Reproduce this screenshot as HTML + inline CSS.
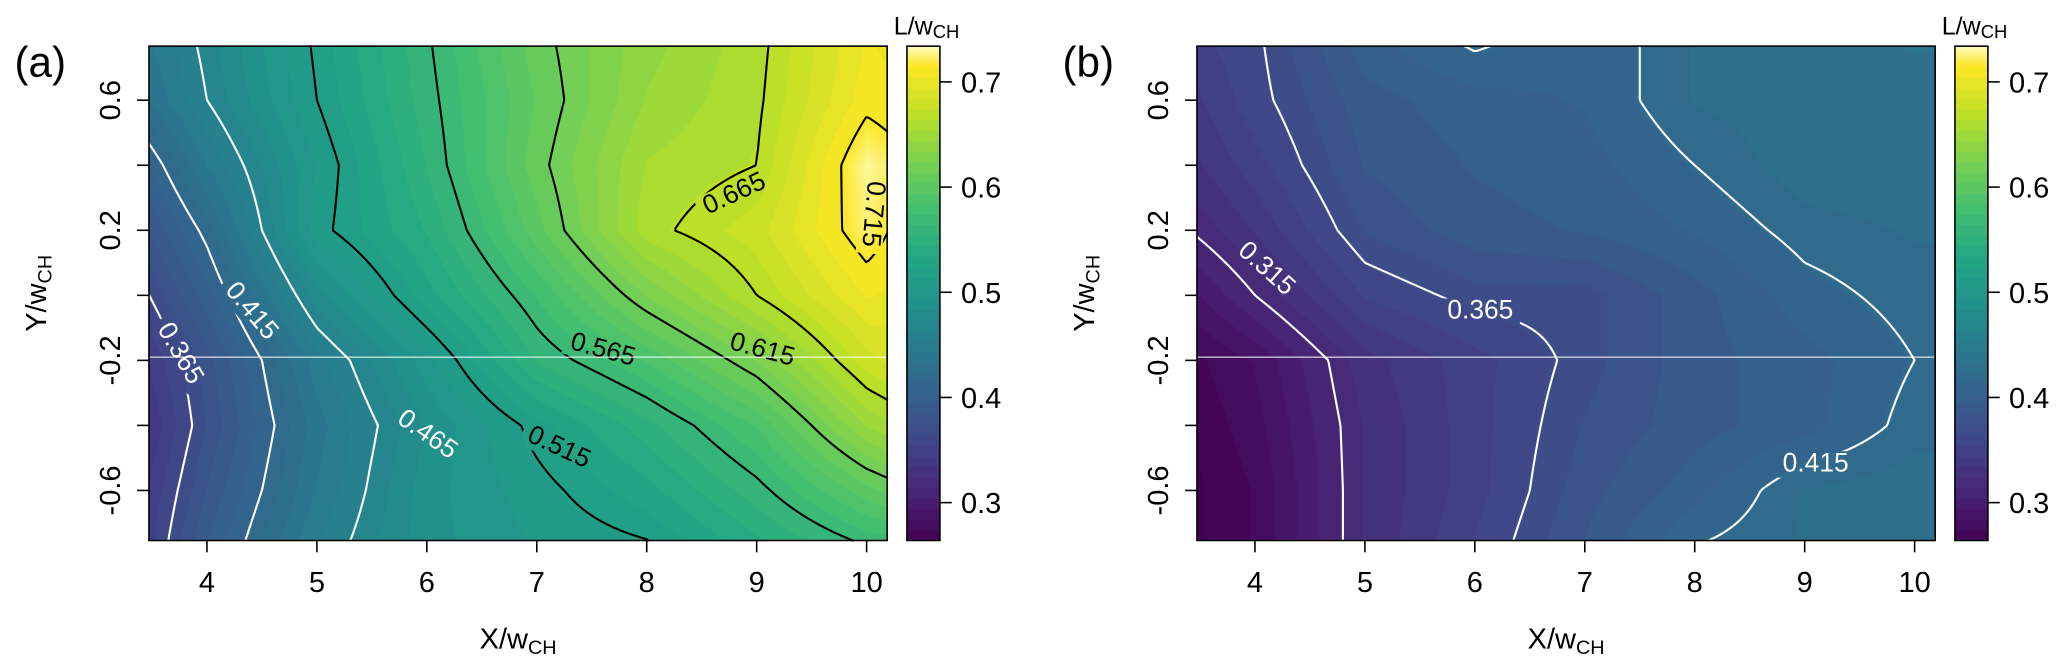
<!DOCTYPE html>
<html><head><meta charset="utf-8">
<style>
html,body{margin:0;padding:0;background:#fff;}
#wrap{position:relative;width:2067px;height:671px;overflow:hidden;}
canvas,svg{position:absolute;left:0;top:0;}
text{font-family:"Liberation Sans",sans-serif;}
</style></head>
<body>
<div id="wrap">
<canvas id="cv" width="2067" height="671"></canvas>
<svg id="sv" width="2067" height="671" viewBox="0 0 1568 509"></svg>
</div>
<script>
// ---- data ----
const xGrid = [3.4, 4, 5, 6, 7, 8, 9, 10, 10.3];
const yGrid = [-0.77, -0.6, -0.4, -0.2, 0, 0.2, 0.4, 0.6, 0.78];
// rows bottom->top, panel (a)
const valuesA = [
  [0.345,0.395,0.455,0.49,0.505,0.513,0.54,0.565,0.567],
  [0.34,0.385,0.445,0.49,0.51,0.53,0.56,0.60,0.61],
  [0.33,0.375,0.44,0.485,0.52,0.55,0.585,0.645,0.655],
  [0.34,0.38,0.45,0.50,0.555,0.585,0.625,0.68,0.69],
  [0.36,0.40,0.48,0.53,0.575,0.625,0.665,0.705,0.70],
  [0.38,0.42,0.51,0.545,0.60,0.66,0.68,0.725,0.71],
  [0.40,0.445,0.505,0.555,0.61,0.655,0.665,0.73,0.72],
  [0.43,0.465,0.515,0.56,0.605,0.645,0.662,0.71,0.705],
  [0.44,0.47,0.518,0.563,0.61,0.64,0.66,0.705,0.70]
];
const valuesB = [
  [0.26,0.275,0.325,0.355,0.385,0.415,0.425,0.43,0.43],
  [0.26,0.275,0.325,0.35,0.38,0.40,0.425,0.43,0.43],
  [0.265,0.28,0.325,0.35,0.375,0.39,0.40,0.42,0.42],
  [0.27,0.285,0.33,0.35,0.37,0.39,0.40,0.415,0.42],
  [0.29,0.315,0.355,0.37,0.37,0.39,0.41,0.42,0.42],
  [0.315,0.335,0.375,0.39,0.395,0.405,0.42,0.425,0.425],
  [0.33,0.35,0.385,0.395,0.40,0.415,0.43,0.43,0.43],
  [0.34,0.36,0.39,0.40,0.405,0.425,0.43,0.43,0.43],
  [0.35,0.362,0.40,0.418,0.405,0.425,0.43,0.435,0.435]
];
const levelsA = [0.365,0.415,0.465,0.515,0.565,0.615,0.665,0.715];
const levelColorsA = ['#fff','#fff','#fff','#000','#000','#000','#000','#000'];
const levelsB = [0.315,0.365,0.415];
const xTicks = [4,5,6,7,8,9,10];
const yTicks = [-0.6,-0.4,-0.2,0,0.2,0.4,0.6];
const yTickLabels = ['-0.6','','-0.2','','0.2','','0.6'];
const cbTicks = [0.3,0.4,0.5,0.6,0.7];
const cbMin = 0.264, cbMax = 0.734;
const labelsA = [["0.365",3.75,-0.18,60],["0.415",4.4,-0.05,50],["0.465",6.0,-0.43,35],["0.515",7.2,-0.47,25],["0.565",7.6,-0.17,15],["0.615",9.05,-0.17,15],["0.665",8.8,0.31,-25],["0.715",10.05,0.25,95]];
const labelsB = [["0.315",4.1,0.08,42],["0.365",6.05,-0.05,0],["0.415",9.1,-0.52,0]];

// ---- geometry (viewBox units) ----
const K = 2067/1568;
const panels = [
  {id:'a', L:113, R:673, T:35, B:410, off:0, vals:valuesA, levels:levelsA, cols:levelColorsA, labels:labelsA},
  {id:'b', L:908, R:1468, T:35, B:410, off:795, vals:valuesB, levels:levelsB, cols:['#fff','#fff','#fff'], labels:labelsB}
];
function xs(p,x){return p.off+157+(x-4)*83.4;}
function ys(y){return 76+(0.6-y)*246.7;}
function xinv(p,px){return 4+(px-157-p.off)/83.4;}
function yinv(py){return 0.6-(py-76)/246.7;}

const VIR=[[68,1,84],[72,36,117],[65,68,135],[53,95,141],[42,120,142],[33,145,140],[34,168,132],[68,191,112],[122,209,81],[189,223,38],[253,231,37],[253,245,170]];
function vir(t){t=Math.max(0,Math.min(1,t));const n=10;let f=t*n;let i=Math.min(n-1,Math.floor(f));let u=f-i;
  const a=VIR[i],b=VIR[i+1];return [a[0]+(b[0]-a[0])*u,a[1]+(b[1]-a[1])*u,a[2]+(b[2]-a[2])*u];}
function colorOf(v){
  const q=Math.floor((v-cbMin)/0.01)*0.01+cbMin+0.005;
  if(v>0.715){const t=Math.min(1,(v-0.715)/(cbMax-0.715));return [253,231+20*t,37+150*t];}
  return vir((q-cbMin)/(0.715-cbMin));
}
function findIdx(arr,v){for(let i=0;i<arr.length-2;i++){if(v<arr[i+1])return i;}return arr.length-2;}
function interp(vals,x,y){
  const i=findIdx(xGrid,x),j=findIdx(yGrid,y);
  const u=Math.max(0,Math.min(1,(x-xGrid[i])/(xGrid[i+1]-xGrid[i])));
  const w=Math.max(0,Math.min(1,(y-yGrid[j])/(yGrid[j+1]-yGrid[j])));
  return vals[j][i]*(1-u)*(1-w)+vals[j][i+1]*u*(1-w)+vals[j+1][i]*(1-u)*w+vals[j+1][i+1]*u*w;
}

// ---- fill ----
const cv=document.getElementById('cv');const ctx=cv.getContext('2d');
const img=ctx.createImageData(2067,671);
function setPx(X,Y,c){const k=(Y*2067+X)*4;img.data[k]=c[0];img.data[k+1]=c[1];img.data[k+2]=c[2];img.data[k+3]=255;}
panels.forEach(p=>{
  for(let Y=Math.round(p.T*K);Y<Math.round(p.B*K);Y++){
    for(let X=Math.round(p.L*K);X<Math.round(p.R*K);X++){
      const v=interp(p.vals,xinv(p,X/K),yinv(Y/K));setPx(X,Y,colorOf(v));
    }
  }
  const cL=p.R+15, cR=p.R+40;
  for(let Y=Math.round(p.T*K);Y<Math.round(p.B*K);Y++){
    const v=cbMax-(Y/K-p.T)/(p.B-p.T)*(cbMax-cbMin);
    const c=colorOf(v);
    for(let X=Math.round(cL*K);X<Math.round(cR*K);X++)setPx(X,Y,c);
  }
});
for(let k=3;k<img.data.length;k+=4){if(img.data[k]===0){img.data[k-3]=255;img.data[k-2]=255;img.data[k-1]=255;img.data[k]=255;}}
ctx.putImageData(img,0,0);

// ---- svg overlay ----
const NS='http://www.w3.org/2000/svg';const sv=document.getElementById('sv');
function el(tag,attrs,parent){const e=document.createElementNS(NS,tag);for(const k in attrs)e.setAttribute(k,attrs[k]);(parent||sv).appendChild(e);return e;}
const defs=el('defs',{});

panels.forEach(p=>{
  const g=el('g',{});
  
  
  // mask to break lines under labels
  const mask=el('mask',{id:'m'+p.id,maskUnits:'userSpaceOnUse',x:0,y:0,width:1568,height:509},defs);
  el('rect',{x:0,y:0,width:1568,height:509,fill:'#fff'},mask);
  p.labels.forEach(lb=>{
    const cx=xs(p,lb[1]),cy=ys(lb[2]);
    el('rect',{x:cx-30,y:cy-10,width:60,height:20,fill:'#000',transform:'rotate('+lb[3]+' '+cx+' '+cy+')'},mask);
  });
  const cg=el('g',{mask:'url(#m'+p.id+')'},g);
  const st=2;
  p.levels.forEach((lev,li)=>{
    let d='';
    for(let py=p.T;py<p.B-0.01;py+=st){
      for(let px=p.L;px<p.R-0.01;px+=st){
        const x0=px,x1=Math.min(px+st,p.R),y0=py,y1=Math.min(py+st,p.B);
        const a=interp(p.vals,xinv(p,x0),yinv(y0))-lev,b=interp(p.vals,xinv(p,x1),yinv(y0))-lev,
              c=interp(p.vals,xinv(p,x1),yinv(y1))-lev,dd=interp(p.vals,xinv(p,x0),yinv(y1))-lev;
        const pts=[];
        if((a>0)!==(b>0))pts.push([x0+(x1-x0)*a/(a-b),y0]);
        if((b>0)!==(c>0))pts.push([x1,y0+(y1-y0)*b/(b-c)]);
        if((c>0)!==(dd>0))pts.push([x1-(x1-x0)*c/(c-dd),y1]);
        if((dd>0)!==(a>0))pts.push([x0,y1-(y1-y0)*dd/(dd-a)]);
        for(let k=0;k+1<pts.length;k+=2)d+='M'+pts[k][0].toFixed(2)+' '+pts[k][1].toFixed(2)+'L'+pts[k+1][0].toFixed(2)+' '+pts[k+1][1].toFixed(2);
      }
    }
    const path=el('path',{d:d,stroke:p.cols[li],'stroke-width':1.6,fill:'none','stroke-linecap':'round'},cg);
    
    
  });
  p.labels.forEach(lb=>{
    const col=(p.id==='a'&&parseFloat(lb[0])>0.5)?'#000':'#fff';
    const t=el('text',{x:xs(p,lb[1]),y:ys(lb[2]),'font-size':20,fill:col,'text-anchor':'middle','dominant-baseline':'middle',transform:'rotate('+lb[3]+' '+xs(p,lb[1])+' '+ys(lb[2])+')'},g);
    t.textContent=lb[0];
    
    
  });
  const hl=el('line',{x1:p.L,x2:p.R,y1:ys(-0.19),y2:ys(-0.19),stroke:'#fff','stroke-width':0.8},g);
  
  
  const bx=el('rect',{x:p.L,y:p.T,width:p.R-p.L,height:p.B-p.T,fill:'none',stroke:'#000','stroke-width':1.2},g);
  
  
  xTicks.forEach(v=>{
    const x=xs(p,v);
    const tl=el('line',{x1:x,x2:x,y1:p.B,y2:p.B+9,stroke:'#000','stroke-width':1.2},g);
    
    
    const tt=el('text',{x:x,y:p.B+39,'font-size':22,'text-anchor':'middle'},g);
    tt.textContent=String(v);
    
    
  });
  yTicks.forEach((v,i)=>{
    const y=ys(v);
    const tl=el('line',{x1:p.L-9,x2:p.L,y1:y,y2:y,stroke:'#000','stroke-width':1.2},g);
    
    
    if(yTickLabels[i]){
      const tx=p.L-22;
      const tt=el('text',{x:tx,y:y,'font-size':22,'text-anchor':'middle',transform:'rotate(-90 '+tx+' '+y+')'},g);
      tt.textContent=yTickLabels[i];
      
      
    }
  });
  const xt=el('text',{x:(p.L+p.R)/2,y:p.B+82,'font-size':22,'text-anchor':'middle'},g);
  xt.innerHTML='X/w<tspan font-size="15" dy="4">CH</tspan>';
  
  
  const ycx=p.L-78, ycy=(p.T+p.B)/2;
  const yt=el('text',{x:ycx,y:ycy,'font-size':22,'text-anchor':'middle',transform:'rotate(-90 '+ycx+' '+ycy+')'},g);
  yt.innerHTML='Y/w<tspan font-size="15" dy="4">CH</tspan>';
  
  
  const pl=el('text',{x:p.L-102,y:p.T+23,'font-size':32},g);
  pl.textContent='('+p.id+')';
  
  
  const cL=p.R+15,cR=p.R+40;
  const cb=el('rect',{x:cL,y:p.T,width:cR-cL,height:p.B-p.T,fill:'none',stroke:'#000','stroke-width':1.2},g);
  
  
  cbTicks.forEach(v=>{
    const y=p.T+(cbMax-v)/(cbMax-cbMin)*(p.B-p.T);
    const tl=el('line',{x1:cR,x2:cR+9,y1:y,y2:y,stroke:'#000','stroke-width':1.2},g);
    
    
    const tt=el('text',{x:cR+16,y:y+8,'font-size':22},g);
    tt.textContent=v.toFixed(1);
    
    
  });
  const ct=el('text',{x:cL-10,y:p.T-9,'font-size':19},g);
  ct.innerHTML='L/w<tspan font-size="14" dy="3">CH</tspan>';
  
  
});
</script>
</body></html>
